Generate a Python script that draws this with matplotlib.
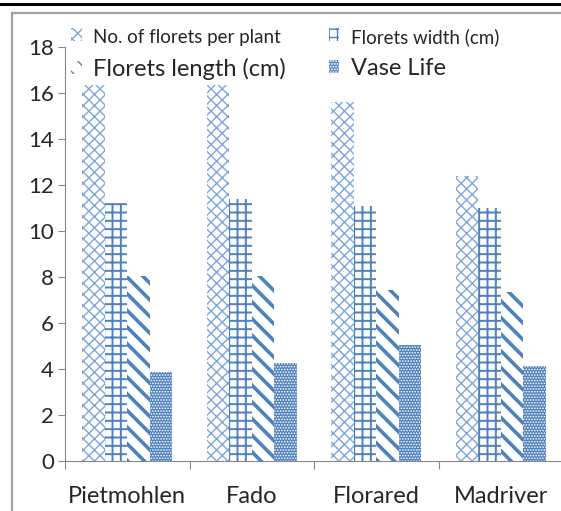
import matplotlib.pyplot as plt
from matplotlib.patches import Rectangle
from matplotlib.lines import Line2D
import numpy as np

cultivars = ['Pietmohlen', 'Fado', 'Florared', 'Madriver']
florets_no = [16.35, 16.35, 15.6, 12.4]
florets_width = [11.2, 11.4, 11.1, 11.0]
florets_length = [8.05, 8.05, 7.45, 7.33]
vase_life = [3.88, 4.25, 5.04, 4.14]

plt.rcParams['font.family'] = ['Lato', 'DejaVu Sans']

W, H = 561, 511
fig = plt.figure(figsize=(W / 100, H / 100), dpi=100)
ax = fig.add_axes([65 / W, 50 / H, 498 / W, 414 / H])

x = np.arange(len(cultivars))
w = 0.18
blue = '#4F81BD'
light = '#7EA6DA'

series = [
    (florets_no, 'No. of florets per plant', 'xxx', 'white', light, 1.0),
    (florets_width, 'Florets width (cm)', '++', 'white', blue, 1.4),
    (florets_length, 'Florets length (cm)', '\\\\', 'white', blue, 2.6),
    (vase_life, 'Vase Life', '......', blue, 'white', 0.8),
]
bars = []
for i, (vals, label, hatch, face, edge, hlw) in enumerate(series):
    with plt.rc_context({'hatch.linewidth': hlw}):
        b = ax.bar(x + (i - 1.5) * w, vals, w, label=label, hatch=hatch,
                   facecolor=face, edgecolor=edge, linewidth=0)
    bars.append(b)

ax.set_xlim(-0.5, 3.5)
ax.set_ylim(0, 18)
ax.set_yticks(np.arange(0, 19, 2))
ax.tick_params(axis='y', labelsize=16, length=5, width=0.8, color='#868686',
               pad=3, labelcolor='#262626')
ax.set_xticks(np.arange(-0.5, 3.6, 1))
ax.set_xticklabels([])
ax.set_xticks(x, minor=True)
ax.set_xticklabels(cultivars, minor=True)
ax.tick_params(axis='x', which='major', length=6, width=0.8, color='#868686')
ax.tick_params(axis='x', which='minor', length=0, labelsize=17, pad=18,
               labelcolor='#262626')
for s in ['top', 'right']:
    ax.spines[s].set_visible(False)
for s in ['left', 'bottom']:
    ax.spines[s].set_color('#868686')
    ax.spines[s].set_linewidth(0.8)

# legend: row 1 = no. / width, row 2 = length / vase life
order = [0, 2, 1, 3]
leg = ax.legend([bars[i] for i in order], [series[i][1] for i in order],
                ncol=2, frameon=False, loc='upper left',
                bbox_to_anchor=(71 / W, 1 - 28 / H), bbox_transform=fig.transFigure,
                borderaxespad=0, borderpad=0, fontsize=17,
                handlelength=0.45, handleheight=0.45, handletextpad=0.5,
                columnspacing=1.8, labelspacing=0.5)
txt = leg.get_texts()
txt[0].set_fontsize(13.5)
txt[2].set_fontsize(13.5)
for t in txt:
    t.set_color('#262626')

# page frame
fig.add_artist(Line2D([0, 1], [1 - 4 / H, 1 - 4 / H], color='black', lw=2.2,
                      transform=fig.transFigure))
fig.add_artist(Rectangle((12 / W, -0.1), 1.2, 1 - 13 / H + 0.1, fill=False,
                         edgecolor='#A0A0A0', lw=1.6, transform=fig.transFigure))

fig.savefig('out.png', dpi=100)
